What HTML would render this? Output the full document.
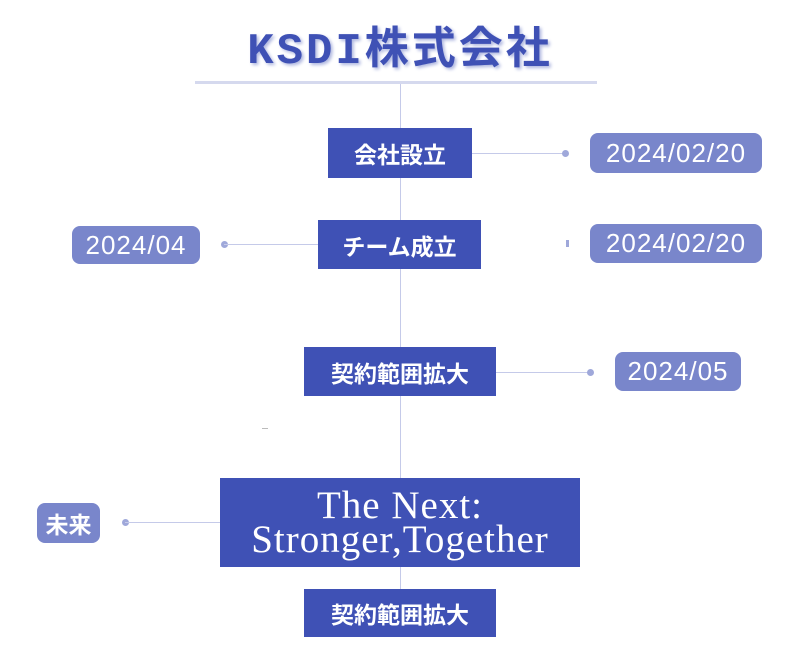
<!DOCTYPE html>
<html><head><meta charset="utf-8"><style>
body{margin:0;width:800px;height:666px;background:#fff;position:relative;overflow:hidden;font-family:"Liberation Sans","Noto Sans CJK JP",sans-serif}
.a{position:absolute}
.box{position:absolute;background:#3f51b5;color:#fff;display:flex;align-items:center;justify-content:center;font-weight:bold;font-size:23px}
.pill{position:absolute;background:#7986cb;color:#fff;border-radius:8px;display:flex;align-items:center;justify-content:center;font-size:26px;letter-spacing:1px}
.h{position:absolute;height:1px;background:#c5cae9}
.dot{position:absolute;width:7px;height:7px;border-radius:50%;background:#9fa8da}
</style></head><body>
<div class="a" style="left:0;width:800px;top:12px;text-align:center;font-size:44px;font-weight:bold;color:#3f51b5;letter-spacing:3px;text-shadow:2px 2px 3px #b0b8e0;font-family:'Liberation Mono','Noto Sans CJK JP',monospace">KSDI株式会社</div>
<div class="a" style="left:195px;top:81px;width:402px;height:3px;background:#d5d9ee"></div>
<div class="a" style="left:400px;top:84px;width:1px;height:520px;background:#c5cae9"></div>

<div class="box" style="left:328px;top:128px;width:144px;height:50px">会社設立</div>
<div class="h" style="left:472px;top:153px;width:93px"></div><div class="dot" style="left:562px;top:150px"></div>
<div class="pill" style="left:590px;top:133px;width:172px;height:40px">2024/02/20</div>

<div class="box" style="left:318px;top:220px;width:163px;height:49px">チーム成立</div>
<div class="pill" style="left:72px;top:226px;width:128px;height:38px">2024/04</div>
<div class="dot" style="left:221px;top:241px"></div><div class="h" style="left:224px;top:244px;width:94px"></div>
<div class="a" style="left:566px;top:240px;width:3px;height:7px;background:#9fa8da"></div>
<div class="pill" style="left:590px;top:224px;width:172px;height:39px">2024/02/20</div>

<div class="box" style="left:304px;top:347px;width:192px;height:49px">契約範囲拡大</div>
<div class="h" style="left:496px;top:372px;width:94px"></div><div class="dot" style="left:587px;top:369px"></div>
<div class="pill" style="left:615px;top:352px;width:126px;height:39px">2024/05</div>
<div class="a" style="left:262px;top:428px;width:6px;height:1px;background:#bbb"></div>

<div class="box" style="left:220px;top:478px;width:360px;height:89px;font-family:'Liberation Serif',serif;font-weight:normal;font-size:39px;line-height:34px;letter-spacing:1px;text-align:center;flex-direction:column">The Next:<br>Stronger,Together</div>
<div class="pill" style="left:37px;top:503px;width:63px;height:40px;font-size:23px;font-weight:bold;letter-spacing:0">未来</div>
<div class="dot" style="left:122px;top:519px"></div><div class="h" style="left:125px;top:522px;width:95px"></div>

<div class="box" style="left:304px;top:589px;width:192px;height:48px">契約範囲拡大</div>
</body></html>
